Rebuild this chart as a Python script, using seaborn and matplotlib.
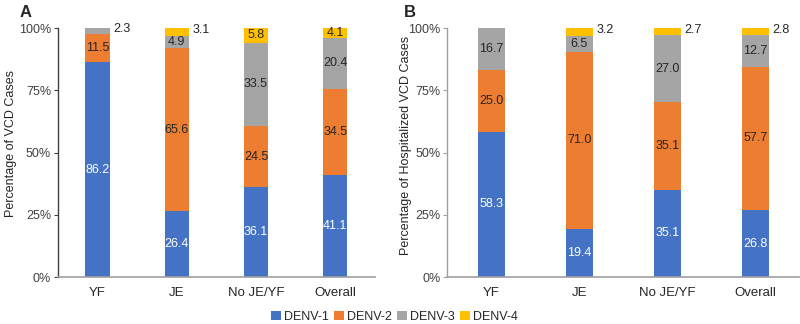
import numpy as np
import pandas as pd
import matplotlib
matplotlib.use("Agg")
import matplotlib.pyplot as plt
import seaborn as sns
from matplotlib.patches import Patch
from matplotlib.ticker import FuncFormatter

sns.set_style("white")
plt.rcParams['font.family'] = ['Liberation Sans', 'DejaVu Sans']

categories = ["YF", "JE", "No JE/YF", "Overall"]
serotypes = ["DENV-1", "DENV-2", "DENV-3", "DENV-4"]
colors = ["#4472C4", "#ED7D31", "#A5A5A5", "#FFC000"]

# Panel A: Percentage of VCD cases
a_denv1 = [86.2, 26.4, 36.1, 41.1]
a_denv2 = [11.5, 65.6, 24.5, 34.5]
a_denv3 = [2.3, 4.9, 33.5, 20.4]
a_denv4 = [0.0, 3.1, 5.8, 4.1]

# Panel B: Percentage of hospitalized VCD cases
b_denv1 = [58.3, 19.4, 35.1, 26.8]
b_denv2 = [25.0, 71.0, 35.1, 57.7]
b_denv3 = [16.7, 6.5, 27.0, 12.7]
b_denv4 = [0.0, 3.2, 2.7, 2.8]

yticks = [0, 25, 50, 75, 100]

fig = plt.figure(figsize=(8, 3.24), dpi=100)
axA = fig.add_axes([0.0725, 0.145, 0.396, 0.7685])
axB = fig.add_axes([0.559, 0.145, 0.44, 0.7685])

def draw(ax, series, ylabel, left_color, label_xy):
    arr = np.array(series)  # shape (4 serotypes, n cats)
    cum = np.cumsum(arr, axis=0)
    # draw from top layer down so lower layers overlay
    for i in range(len(serotypes) - 1, -1, -1):
        df = pd.DataFrame({"cat": categories, "val": cum[i]})
        sns.barplot(data=df, x="cat", y="val", order=categories, color=colors[i],
                    width=0.31, ax=ax, saturation=1, edgecolor="none", linewidth=0)
    for i in range(len(serotypes)):
        for j in range(len(categories)):
            v = arr[i, j]
            if v <= 0:
                continue
            mid = cum[i, j] - v / 2
            txt = f"{v:.1f}"
            if v < 4:
                ax.text(j + 0.31 / 2 + 0.04, cum[i, j] - v / 2 + 0.6, txt, ha="left",
                        va="center", fontsize=9, color="#262626")
            else:
                ax.text(j, mid, txt, ha="center", va="center", fontsize=9,
                        color="white" if i == 0 else "#262626")
    ax.set_ylim(0, 100)
    ax.set_xlim(-0.5, 3.5)
    ax.set_yticks(yticks)
    ax.yaxis.set_major_formatter(FuncFormatter(lambda y, p: f"{int(y)}%"))
    ax.set_xlabel("")
    ax.set_ylabel(ylabel, fontsize=9, color="#262626")
    ax.yaxis.set_label_coords(*label_xy)
    for s in ["top", "right"]:
        ax.spines[s].set_visible(False)
    ax.spines["left"].set_color(left_color)
    ax.spines["left"].set_linewidth(1.0)
    ax.spines["bottom"].set_color("#A0A0A0")
    ax.spines["bottom"].set_linewidth(1.2)
    ax.tick_params(axis="y", which="both", left=True, length=3, width=0.8,
                   color=left_color, labelsize=9, labelcolor="#404040", pad=2)
    ax.tick_params(axis="x", bottom=False, labelsize=9.5, labelcolor="#262626", pad=4)

draw(axA, [a_denv1, a_denv2, a_denv3, a_denv4], "Percentage of VCD Cases", "#404040",
     (-0.128, 0.535))
draw(axB, [b_denv1, b_denv2, b_denv3, b_denv4], "Percentage of Hospitalized VCD Cases",
     "#A0A0A0", (-0.100, 0.53))

fig.text(0.025, 0.985, "A", fontsize=12, fontweight="bold", va="top", ha="left")
fig.text(0.505, 0.985, "B", fontsize=12, fontweight="bold", va="top", ha="left")

handles = [Patch(facecolor=c, edgecolor="none", label=s) for c, s in zip(colors, serotypes)]
fig.legend(handles=handles, loc="center", bbox_to_anchor=(0.493, 0.022), ncol=4,
           frameon=False, fontsize=9, handlelength=0.75, handleheight=0.8,
           handletextpad=0.25, columnspacing=0.45, labelcolor="#262626")

fig.savefig("out.png", dpi=100)
